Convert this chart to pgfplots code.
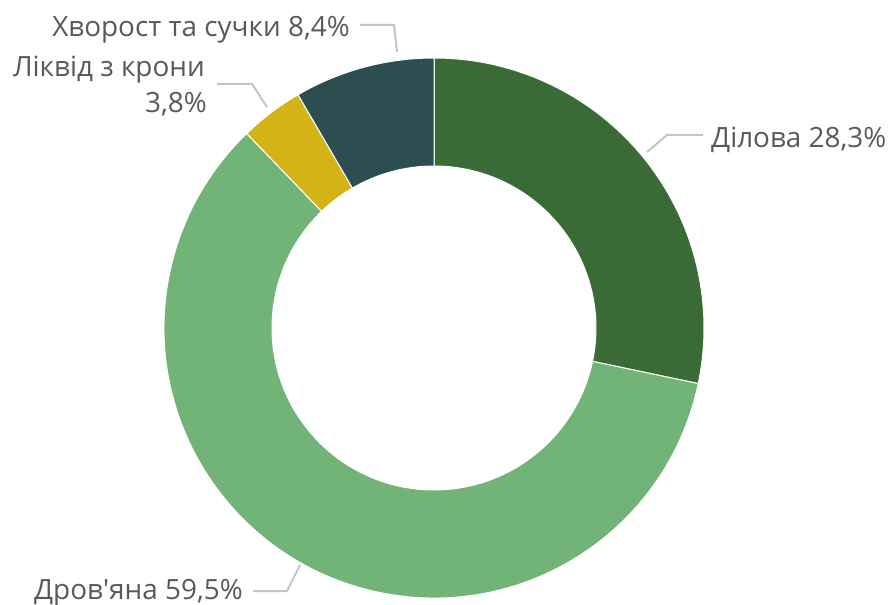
\documentclass[border=0pt]{standalone}
\usepackage{pgfplots}
\pgfplotsset{compat=1.18}
\usepackage{fontspec}
\setmainfont{Open Sans}[Ligatures=TeXOff]
\definecolor{cDil}{HTML}{3A6B37}
\definecolor{cDrov}{HTML}{72B377}
\definecolor{cLiq}{HTML}{D4B316}
\definecolor{cHv}{HTML}{2C4E51}
\definecolor{lbl}{HTML}{595959}
\definecolor{lead}{HTML}{C4C4C4}

% wedge from cumulative share #1 to #2 (percent), clockwise from 12 o'clock
\newcommand\donutwedge[3]{%
  \fill[#3, draw=white, line width=1bp]
    (axis cs:434,277) ++({90-3.6*#1}:270bp)
    arc[start angle={90-3.6*#1}, end angle={90-3.6*#2}, radius=270bp]
    -- ([shift={({90-3.6*#2}:162bp)}]axis cs:434,277)
    arc[start angle={90-3.6*#2}, end angle={90-3.6*#1}, radius=162bp]
    -- cycle;}

\begin{document}
\begin{tikzpicture}
\begin{axis}[name=ax, hide axis, scale only axis, width=892bp, height=605bp,
  xmin=0, xmax=892, ymin=0, ymax=605, clip=false]
  % shares: 28.3, 59.5, 3.8, 8.4
  \donutwedge{0}{28.3}{cDil}
  \donutwedge{28.3}{87.8}{cDrov}
  \donutwedge{87.8}{91.6}{cLiq}
  \donutwedge{91.6}{100}{cHv}

  \draw[lead, line width=2bp] (axis cs:360,580) -- (axis cs:394,580) -- (axis cs:397,553);
  \draw[lead, line width=2bp] (axis cs:217,521) -- (axis cs:252,521) -- (axis cs:267,498);
  \draw[lead, line width=2bp] (axis cs:703,470) -- (axis cs:667,470) -- (axis cs:647,453);
  \draw[lead, line width=2bp] (axis cs:253,14) -- (axis cs:287,14) -- (axis cs:300,40);

  \begin{scope}[every node/.style={text=lbl, inner sep=0pt, font=\fontsize{28}{33}\selectfont}]
  \node[anchor=base east] at (axis cs:350,568) {Хворост та сучки 8,4\%};
  \node[anchor=base east] at (axis cs:205,528) {Ліквід з крони};
  \node[anchor=base east] at (axis cs:207,492) {3,8\%};
  \node[anchor=base west] at (axis cs:711,457) {Ділова 28,3\%};
  \node[anchor=base east] at (axis cs:243,6) {Дров'яна 59,5\%};
  \end{scope}
\end{axis}
\pgfresetboundingbox
\useasboundingbox (ax.south west) rectangle (ax.north east);
\end{tikzpicture}
\end{document}
